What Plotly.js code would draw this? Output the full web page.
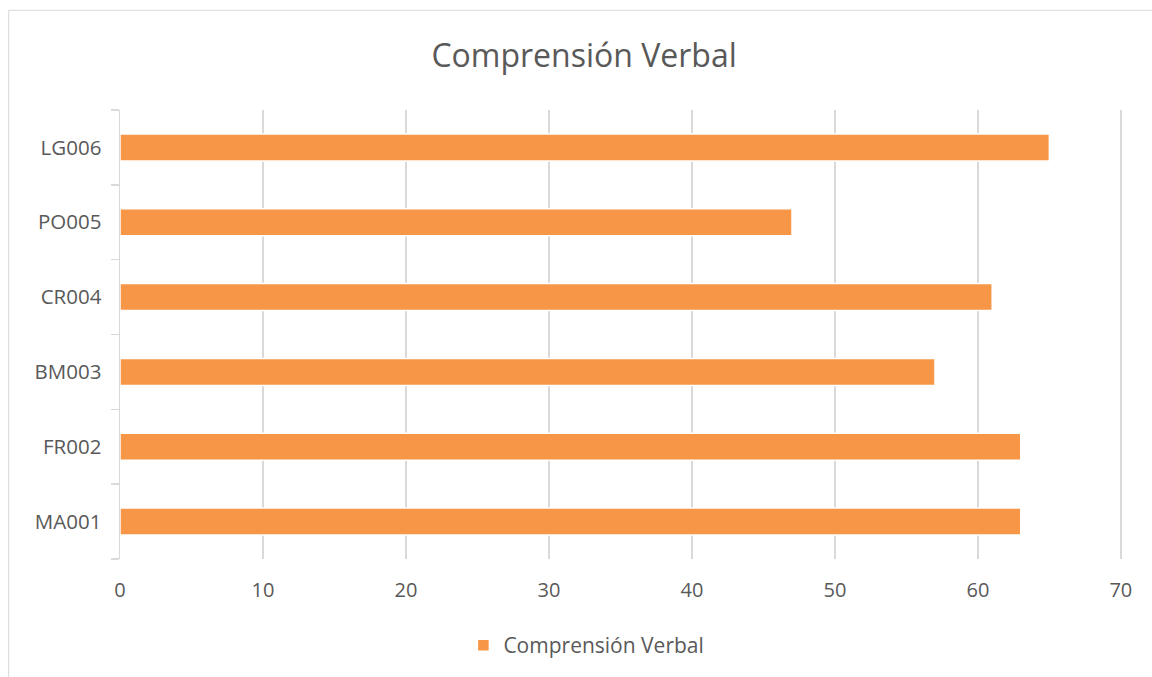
<!DOCTYPE html>
<html>
<head>
<meta charset="utf-8">
<script src="https://cdn.plot.ly/plotly-3.0.1.min.js"></script>
<style>html,body{margin:0;padding:0;background:#fff;}#chart{width:1152px;height:677px;}</style>
</head>
<body>
<div id="chart"></div>
<script>
const categories = ["MA001", "FR002", "BM003", "CR004", "PO005", "LG006"];
const values = [63, 63, 57, 61, 47, 65];
const seriesName = "Comprensión Verbal";
const xTicks = [0, 10, 20, 30, 40, 50, 60, 70];

const trace = {
  type: "bar",
  orientation: "h",
  y: categories,
  x: values,
  name: seriesName,
  marker: {color: "#F79646", line: {color: "#ffffff", width: 1.5}},
  showlegend: true,
  hoverinfo: "x+y"
};

const layout = {
  width: 1152, height: 677,
  margin: {l: 120, r: 29, t: 110, b: 117},
  paper_bgcolor: "#ffffff", plot_bgcolor: "#ffffff",
  font: {family: "Open Sans, sans-serif", color: "#595959", size: 20},
  title: {text: "Comprensión Verbal", font: {size: 32, color: "#595959"}, x: 0.507, xanchor: "center", y: 0.918, yanchor: "middle"},
  bargap: 0.64,
  xaxis: {
    range: [0, 70.15], tickvals: xTicks, ticktext: xTicks.map(String),
    showgrid: true, gridcolor: "#d9d9d9", gridwidth: 1.5,
    zeroline: false, showline: false, ticks: "", fixedrange: true,
    ticklabelstandoff: 17,
    tickfont: {size: 20, color: "#595959"}
  },
  yaxis: {
    type: "category", categoryorder: "array", categoryarray: categories,
    showgrid: false, zeroline: false,
    showline: true, linecolor: "#d9d9d9", linewidth: 1.5,
    ticks: "outside", ticklen: 8, tickcolor: "#d9d9d9", tickwidth: 1.5,
    tickson: "boundaries", ticklabelstandoff: 13,
    tickfont: {size: 20.5, color: "#595959"}, fixedrange: true
  },
  legend: {orientation: "h", x: 0.465, xanchor: "center", y: -0.19, yanchor: "middle", font: {size: 21, color: "#595959"}},
  shapes: [{
    type: "rect", xref: "paper", yref: "paper",
    x0: -0.111, x1: 1.2, y0: -0.5, y1: 1.222,
    line: {color: "#d9d9d9", width: 1}, fillcolor: "rgba(0,0,0,0)", layer: "below"
  }]
};

Plotly.newPlot("chart", [trace], layout, {displayModeBar: false, staticPlot: true});
</script>
</body>
</html>
